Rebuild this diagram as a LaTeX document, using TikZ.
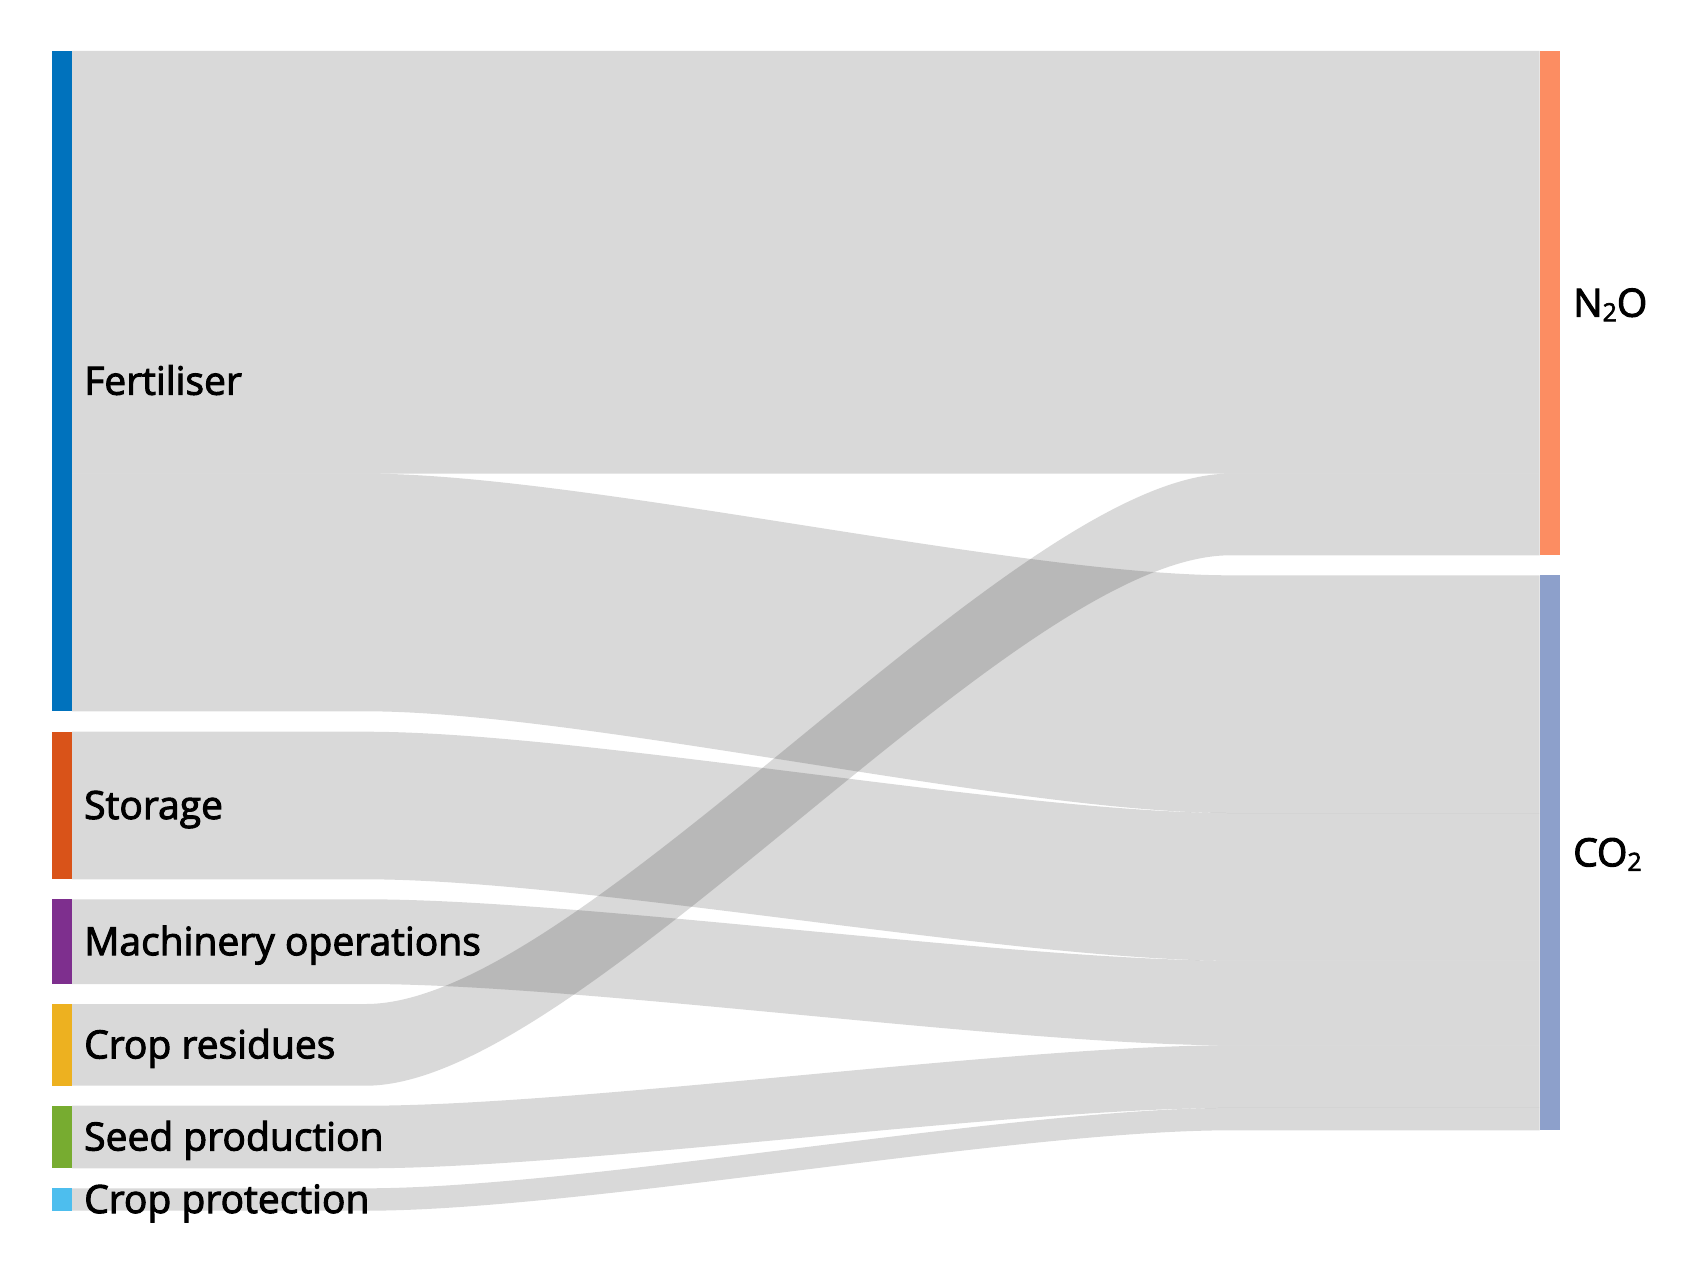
\documentclass[tikz,border=0pt]{standalone}
\usepackage{fontspec}
\setmainfont{Open Sans}
\newfontfamily\labfont{Open Sans}[FakeBold=2.5]
\definecolor{fertc}{HTML}{0072BD}
\definecolor{storc}{HTML}{D95319}
\definecolor{machc}{HTML}{7E2F8E}
\definecolor{resc}{HTML}{EDB120}
\definecolor{seedc}{HTML}{77AC30}
\definecolor{protc}{HTML}{4DBEEE}
\definecolor{nnoc}{HTML}{FC8D62}
\definecolor{cooc}{HTML}{8DA0CB}
\newcommand{\sflow}[4]{%
  \fill[flow] (72,#1) -- (366,#1) .. controls (582,#1) and (1014,#3) .. (1230,#3)
    -- (1539.5,#3) -- (1539.5,#4) -- (1230,#4) .. controls (1014,#4) and (582,#2) .. (366,#2)
    -- (72,#2) -- cycle;}
\newcommand{\subtwo}{{\fontsize{25pt}{25pt}\selectfont\raisebox{-4.5pt}{2}}}
\begin{document}
\begin{tikzpicture}[x=1pt,y=-1pt,
  flow/.style={fill=black,fill opacity=0.15},
  bar/.style={rectangle,inner sep=0pt,outer sep=0pt,draw=none,minimum width=20pt,anchor=north west},
  lab/.style={anchor=base west,inner sep=0pt,font=\labfont\fontsize{39pt}{41pt}\selectfont}]
\useasboundingbox[fill=white] (0,0) rectangle (1693,1263);
% flows
\sflow{51}{473.6}{51}{473.6}
\sflow{473.6}{711.3}{575.3}{813.0}
\sflow{731.7}{879.3}{813.0}{960.6}
\sflow{899.3}{984}{960.6}{1045.3}
\sflow{1004}{1085.7}{473.6}{555.3}
\sflow{1105.7}{1168.3}{1045.3}{1107.9}
\sflow{1188.3}{1210.7}{1107.9}{1130.3}
% nodes
\node[bar,fill=fertc,minimum height=660.3pt] (fert) at (52,51) {};
\node[bar,fill=storc,minimum height=147.6pt] (stor) at (52,731.7) {};
\node[bar,fill=machc,minimum height=84.7pt] (mach) at (52,899.3) {};
\node[bar,fill=resc,minimum height=81.7pt] (res) at (52,1004) {};
\node[bar,fill=seedc,minimum height=62.6pt] (seed) at (52,1105.7) {};
\node[bar,fill=protc,minimum height=22.4pt] (prot) at (52,1188.3) {};
\node[bar,fill=nnoc,minimum height=504.3pt] (nno) at (1539.5,51) {};
\node[bar,fill=cooc,minimum height=555pt] (coo) at (1539.5,575.3) {};
% labels
\node[lab] (lfert) at (84,394.7) {Fertiliser};
\node[lab] (lstor) at (84,819) {Storage};
\node[lab] (lmach) at (84,955.2) {Machinery operations};
\node[lab] (lres) at (84,1058.4) {Crop residues};
\node[lab] (lseed) at (84,1150.5) {Seed production};
\node[lab] (lprot) at (84,1213) {Crop protection};
\node[lab] (lnno) at (1573,316.7) {N\subtwo O};
\node[lab] (lcoo) at (1573,866.3) {CO\subtwo};
\end{tikzpicture}
\end{document}
